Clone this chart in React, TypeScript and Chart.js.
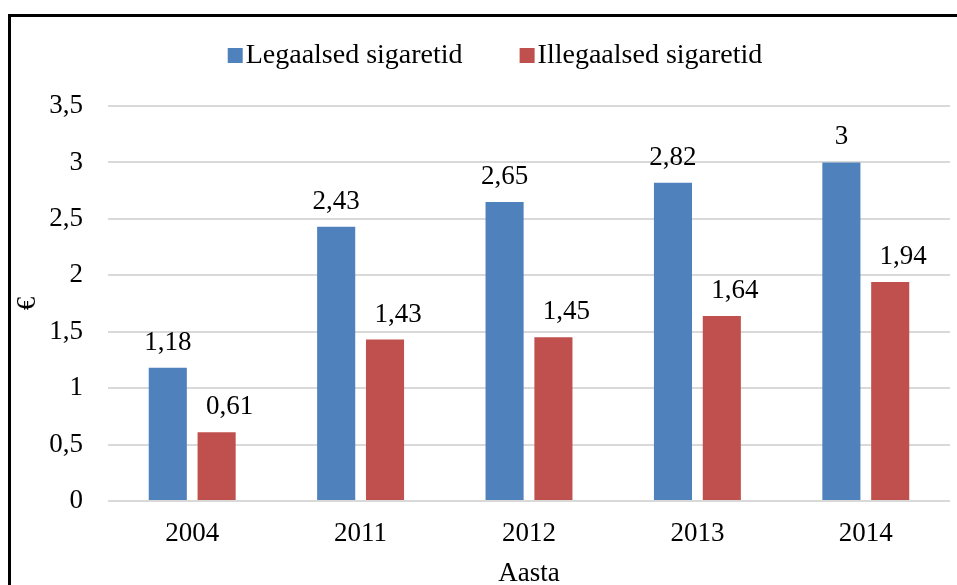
import React, { useEffect, useRef } from 'react';
import { Chart, registerables } from 'chart.js';

Chart.register(...registerables);

const categories = ['2004', '2011', '2012', '2013', '2014'];
const legalValues = [1.18, 2.43, 2.65, 2.82, 3];
const illegalValues = [0.61, 1.43, 1.45, 1.64, 1.94];
const seriesNames = ['Legaalsed sigaretid', 'Illegaalsed sigaretid'];
const seriesColors = ['#4F81BD', '#C0504D'];
const yMin = 0;
const yMax = 3.5;
const yStep = 0.5;
const xTitle = 'Aasta';
const yTitle = '€';

const FONT = "'Liberation Serif', 'Times New Roman', serif";
const FS = 27;
const LEGEND_FS = 28;

const fmt = (v: number) => String(v).replace('.', ',');

const legendPlugin = {
  id: 'customTopLegend',
  afterDraw(chart: any) {
    const ctx = chart.ctx;
    ctx.save();
    ctx.font = `${LEGEND_FS}px ${FONT}`;
    const box = 15;
    const gapBoxText = 3;
    const gapItems = 57;
    const items = chart.data.datasets.map((d: any) => ({
      label: d.label,
      color: d.backgroundColor,
      w: box + gapBoxText + ctx.measureText(d.label).width,
    }));
    const total = items.reduce((s: number, it: any) => s + it.w, 0) + gapItems * (items.length - 1);
    let x = 495 - total / 2;
    const baseline = 63;
    items.forEach((it: any) => {
      ctx.fillStyle = it.color;
      ctx.fillRect(x, baseline - 15, box, box);
      ctx.fillStyle = '#000';
      ctx.textBaseline = 'alphabetic';
      ctx.textAlign = 'left';
      ctx.fillText(it.label, x + box + gapBoxText, baseline);
      x += it.w + gapItems;
    });
    ctx.restore();
  },
};

const labelOffsetsX = [0, 13];

const dataLabelPlugin = {
  id: 'valueLabels',
  afterDatasetsDraw(chart: any) {
    const ctx = chart.ctx;
    ctx.save();
    ctx.font = `${FS}px ${FONT}`;
    ctx.fillStyle = '#000';
    ctx.textAlign = 'center';
    ctx.textBaseline = 'alphabetic';
    chart.data.datasets.forEach((ds: any, i: number) => {
      const meta = chart.getDatasetMeta(i);
      meta.data.forEach((el: any, j: number) => {
        ctx.fillText(fmt(ds.data[j]), el.x + labelOffsetsX[i], el.y - 18);
      });
    });
    ctx.restore();
  },
};

export default function App() {
  const ref = useRef<HTMLCanvasElement>(null);
  useEffect(() => {
    if (!ref.current) return;
    const chart = new Chart(ref.current, {
      type: 'bar',
      data: {
        labels: categories,
        datasets: [
          { label: seriesNames[0], data: legalValues, backgroundColor: seriesColors[0], categoryPercentage: 0.58, barPercentage: 0.78 },
          { label: seriesNames[1], data: illegalValues, backgroundColor: seriesColors[1], categoryPercentage: 0.58, barPercentage: 0.78 },
        ],
      },
      options: {
        responsive: false,
        animation: false,
        layout: { padding: { left: 12, right: 7, top: 106, bottom: 0 } },
        plugins: {
          legend: { display: false },
          tooltip: { enabled: false },
        },
        scales: {
          x: {
            grid: { display: false, drawTicks: false },
            border: { display: false },
            ticks: { color: '#000', font: { family: FONT, size: FS }, padding: 17 },
            title: { display: true, text: xTitle, color: '#000', font: { family: FONT, size: FS }, padding: { top: 0, bottom: -5 } },
            afterFit(scale: any) { scale.height = 84; },
          },
          y: {
            min: yMin,
            max: yMax,
            ticks: {
              stepSize: yStep,
              color: '#000',
              font: { family: FONT, size: FS },
              padding: 25,
              callback: (v: any) => fmt(Number(v)),
            },
            grid: { color: '#D9D9D9', lineWidth: 2, drawTicks: false },
            border: { display: false },
            title: { display: true, text: yTitle, color: '#000', font: { family: FONT, size: FS }, padding: { top: 0, bottom: 0 } },
            afterFit(scale: any) { scale.width = 96; },
          },
        },
      },
      plugins: [legendPlugin, dataLabelPlugin],
    });
    return () => chart.destroy();
  }, []);

  return (
    <div style={{ position: 'fixed', left: 0, top: 0, width: 957, height: 585, background: '#fff', overflow: 'hidden' }}>
      <canvas ref={ref} width={957} height={585} style={{ position: 'absolute', left: 0, top: 0, width: 957, height: 585 }} />
      <div style={{ position: 'absolute', left: 8, top: 14, width: 949, height: 600, borderTop: '3px solid #000', borderLeft: '3px solid #000', boxSizing: 'border-box', pointerEvents: 'none' }} />
    </div>
  );
}
